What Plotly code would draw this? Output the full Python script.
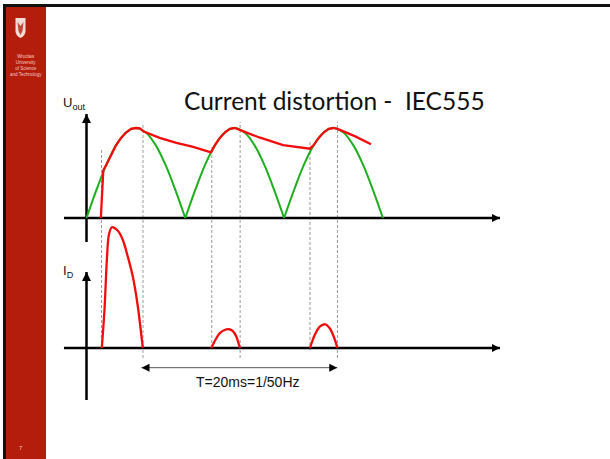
import plotly.graph_objects as go

W, H = 610, 459

# ---- data: time in ms, voltage / current normalised to their peaks ----
# full-wave rectified mains voltage (three half-periods)
green_t = [0, 1, 2, 3, 4, 5, 6, 7, 8, 9, 10, None,
           10, 11, 12, 13, 14, 15, 16, 17, 18, 19, 20, None,
           20, 21, 22, 23, 24, 25, 26, 27, 28, 29, 30]
green_v = [0, 0.31, 0.59, 0.81, 0.95, 1.0, 0.95, 0.81, 0.59, 0.31, 0, None,
           0, 0.31, 0.59, 0.81, 0.95, 1.0, 0.95, 0.81, 0.59, 0.31, 0, None,
           0, 0.31, 0.59, 0.81, 0.95, 1.0, 0.95, 0.81, 0.59, 0.31, 0]

# voltage on the smoothing capacitor
red_t = [1.45, 1.70, 2.0, 2.5, 3.0, 3.5, 4.0, 4.5, 5.0, 5.4, 5.8,
         7.4, 9.1, 10.8, 12.6,
         13.0, 13.5, 14.0, 14.5, 15.0, 15.5,
         17.5, 19.9, 21.6, 22.6,
         23.0, 23.5, 24.0, 24.5, 25.0, 25.4,
         27.15, 28.8]
red_v = [0.0, 0.53, 0.59, 0.71, 0.81, 0.89, 0.95, 0.99, 1.0, 0.995, 0.96,
         0.89, 0.835, 0.79, 0.73,
         0.81, 0.89, 0.95, 0.99, 1.0, 0.98,
         0.895, 0.81, 0.785, 0.77,
         0.81, 0.89, 0.95, 0.99, 1.0, 0.99,
         0.91, 0.82]

# diode current pulses
cur_t = [1.55, 1.82, 2.06, 2.26, 2.57, 3.17, 3.68, 4.18, 4.69, 5.20, 5.70, None,
         12.63, 13.04, 13.47, 13.98, 14.42, 14.82, 15.17, 15.53, None,
         22.62, 23.10, 23.61, 24.18, 24.62, 25.03, 25.40]
cur_i = [0, 0.314, 0.727, 0.934, 0.998, 0.969, 0.893, 0.755, 0.589, 0.341, 0, None,
         0, 0.066, 0.121, 0.149, 0.155, 0.140, 0.093, 0, None,
         0, 0.107, 0.176, 0.196, 0.163, 0.093, 0]

# conduction start / end markers (ms)
dash_t = [1.52, 5.72, 12.68, 15.55, 22.62, 25.40]

period_t = [5.57, 25.38]   # T = 20 ms arrow
axis_t = [-2.28, 41.85]    # horizontal axes extent (to arrow tip)
u_axis = [-0.267, 1.156]   # upper vertical axis extent
i_axis = [-0.43, 0.628]    # lower vertical axis extent

# ---- pixel layout of the slide ----
X0_PX, PX_PER_MS = 86.5, 9.88
U0_PX, PX_PER_U = 218, 90
I0_PX, PX_PER_I = 348, 121


def px(x):
    return x / W


def py(y):
    return 1 - y / H


RED = "#f20d0d"
GREEN = "#1fae1f"
STRIPE = "#b41c0c"

fig = go.Figure()

# axes
for yax in ("y", "y2"):
    fig.add_trace(go.Scatter(x=axis_t, y=[0, 0], yaxis=yax, mode="lines",
                             line=dict(color="black", width=2.5), hoverinfo="skip"))
    fig.add_trace(go.Scatter(x=[axis_t[1]], y=[0], yaxis=yax, mode="markers",
                             marker=dict(symbol="arrow-right", size=8, color="black", line=dict(width=0)),
                             hoverinfo="skip"))
fig.add_trace(go.Scatter(x=[0, 0], y=u_axis, yaxis="y", mode="lines",
                         line=dict(color="black", width=2.5), hoverinfo="skip"))
fig.add_trace(go.Scatter(x=[0], y=[u_axis[1]], yaxis="y", mode="markers",
                         marker=dict(symbol="arrow-up", size=9, color="black", line=dict(width=0)),
                         hoverinfo="skip"))
fig.add_trace(go.Scatter(x=[0, 0], y=i_axis, yaxis="y2", mode="lines",
                         line=dict(color="black", width=2.5), hoverinfo="skip"))
fig.add_trace(go.Scatter(x=[0], y=[i_axis[1]], yaxis="y2", mode="markers",
                         marker=dict(symbol="arrow-up", size=9, color="black", line=dict(width=0)),
                         hoverinfo="skip"))

# curves
fig.add_trace(go.Scatter(x=green_t, y=green_v, yaxis="y", mode="lines",
                         line=dict(color=GREEN, width=2, shape="spline"), hoverinfo="skip"))
fig.add_trace(go.Scatter(x=red_t, y=red_v, yaxis="y", mode="lines",
                         line=dict(color=RED, width=2.3), hoverinfo="skip"))
fig.add_trace(go.Scatter(x=cur_t, y=cur_i, yaxis="y2", mode="lines",
                         line=dict(color=RED, width=2.3, shape="spline", smoothing=0.8), hoverinfo="skip"))

# period arrow
t_y = (I0_PX - 367.7) / PX_PER_I
fig.add_trace(go.Scatter(x=period_t, y=[t_y, t_y], yaxis="y2", mode="lines",
                         line=dict(color="#555", width=1), hoverinfo="skip"))
fig.add_trace(go.Scatter(x=period_t, y=[t_y, t_y], yaxis="y2", mode="markers",
                         marker=dict(symbol=["arrow-left", "arrow-right"], size=8, color="black",
                                     line=dict(width=0)),
                         hoverinfo="skip"))

shapes = [
    dict(type="rect", xref="paper", yref="paper", x0=px(6), x1=px(46), y0=0, y1=py(7),
         fillcolor=STRIPE, line=dict(width=0), layer="below"),
    dict(type="rect", xref="paper", yref="paper", x0=px(3), x1=px(6), y0=0, y1=py(4),
         fillcolor="#111", line=dict(width=0), layer="below"),
    dict(type="rect", xref="paper", yref="paper", x0=px(3), x1=1, y0=py(7), y1=py(4),
         fillcolor="#111", line=dict(width=0), layer="below"),
    # crest of the university
    dict(type="path", xref="paper", yref="paper", layer="below",
         path=(f"M {px(15.5)},{py(18)} L {px(25.5)},{py(18)} L {px(25.5)},{py(31)} "
               f"Q {px(25.5)},{py(35.5)} {px(20.5)},{py(38)} Q {px(15.5)},{py(35.5)} {px(15.5)},{py(31)} Z"),
         fillcolor="#f3dcd6", line=dict(width=0)),
    dict(type="path", xref="paper", yref="paper", layer="below",
         path=(f"M {px(17.5)},{py(22)} L {px(20.5)},{py(26)} L {px(23.5)},{py(22)} "
               f"L {px(22.5)},{py(31)} L {px(20.5)},{py(35)} L {px(18.5)},{py(31)} Z"),
         fillcolor="#c2453a", line=dict(width=0)),
]

dash_top = [149, 125, 147, 122, 142, 122]
dash_bot = [348, 358, 348, 358, 350, 358]
for t, a, b in zip(dash_t, dash_top, dash_bot):
    shapes.append(dict(type="line", xref="x", yref="paper", x0=t, x1=t, y0=py(b), y1=py(a),
                       line=dict(color="#9a9a9a", width=1, dash="3px,2px"), layer="below"))

ARIAL = "Liberation Sans, Arial, sans-serif"
annotations = [
    dict(text="Current distortion -\u00a0 IEC555", x=px(182), y=py(100), xanchor="left", yanchor="middle",
         font=dict(family="Lato, sans-serif", size=24.5, color="#111")),
    dict(text="U<sub>out</sub>", x=px(61), y=py(103), xanchor="left", yanchor="middle",
         font=dict(family=ARIAL, size=13, color="#111")),
    dict(text="I<sub>D</sub>", x=px(61), y=py(271), xanchor="left", yanchor="middle",
         font=dict(family=ARIAL, size=13, color="#111")),
    dict(text="T=20ms=1/50Hz", x=px(248), y=py(382), xanchor="center", yanchor="middle",
         font=dict(family=ARIAL, size=14, color="#111")),
    dict(text="7", x=px(21), y=py(448), xanchor="center", yanchor="middle",
         font=dict(family=ARIAL, size=6, color="#f2c4bc")),
    dict(text="Wrocław<br>University<br>of Science<br>and Technology", x=px(26), y=py(66),
         xanchor="center", yanchor="middle", align="center",
         font=dict(family=ARIAL, size=4.5, color="#f2cdc6")),
]
for a in annotations:
    a.update(xref="paper", yref="paper", showarrow=False)

fig.update_layout(
    width=W, height=H,
    margin=dict(l=0, r=0, t=0, b=0),
    paper_bgcolor="white", plot_bgcolor="white",
    showlegend=False,
    xaxis=dict(range=[-X0_PX / PX_PER_MS, (W - X0_PX) / PX_PER_MS], visible=False, fixedrange=True),
    yaxis=dict(range=[(U0_PX - H) / PX_PER_U, U0_PX / PX_PER_U], visible=False, fixedrange=True),
    yaxis2=dict(range=[(I0_PX - H) / PX_PER_I, I0_PX / PX_PER_I], visible=False, fixedrange=True,
                overlaying="y"),
    shapes=shapes,
    annotations=annotations,
)

# the page's default body margin would push the slide 8px down/right
fig.write_html("out.html", config=dict(displayModeBar=False),
               post_script="document.body.style.margin='0';document.body.style.overflow='hidden';")
